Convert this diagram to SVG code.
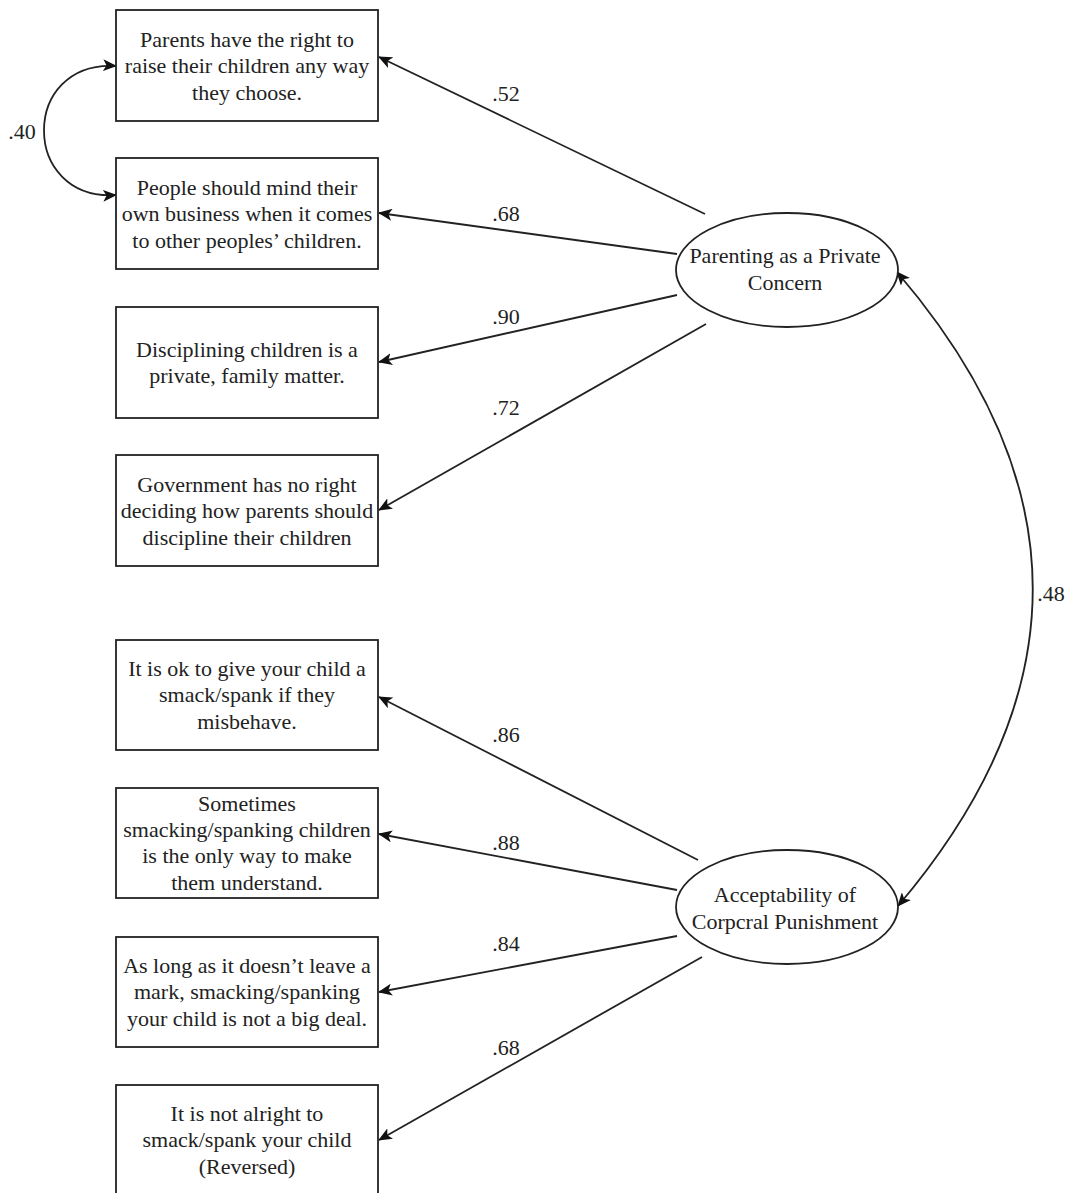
<svg xmlns="http://www.w3.org/2000/svg" width="1069" height="1193" viewBox="0 0 1069 1193">
<style>
.box{fill:#fff;stroke:#222;stroke-width:1.8}
.ell{fill:#fff;stroke:#222;stroke-width:1.8}
text{font-family:"Liberation Serif","Times New Roman",serif;font-size:22px;fill:#222;text-anchor:middle}
.c{fill:none;stroke:#222;stroke-width:1.8}
</style>
<defs>
<marker id="ah" viewBox="0 0 14 12" refX="13" refY="6" markerWidth="14" markerHeight="12" markerUnits="userSpaceOnUse" orient="auto-start-reverse">
<path d="M0,0 L14,6 L0,12 L3.5,6 Z" fill="#111"/>
</marker>
</defs>
<rect width="1069" height="1193" fill="#fff"/>
<g id="connectors">
<path class="c" d="M705,214 L379,57" marker-end="url(#ah)"/>
<path class="c" d="M677,254 L379,213" marker-end="url(#ah)"/>
<path class="c" d="M677,295 L379,362" marker-end="url(#ah)"/>
<path class="c" d="M706,324 L379,510" marker-end="url(#ah)"/>
<path class="c" d="M698,860 L379,697" marker-end="url(#ah)"/>
<path class="c" d="M677,890 L379,834" marker-end="url(#ah)"/>
<path class="c" d="M677,936 L379,992" marker-end="url(#ah)"/>
<path class="c" d="M702,957 L379,1140" marker-end="url(#ah)"/>
<path class="c" d="M116,66 C20,60 20,201 116,195" marker-start="url(#ah)" marker-end="url(#ah)"/>
<path class="c" d="M897,272 Q1168,588 898,906" marker-start="url(#ah)" marker-end="url(#ah)"/>
<text x="506" y="101">.52</text>
<text x="506" y="221">.68</text>
<text x="506" y="324">.90</text>
<text x="506" y="415">.72</text>
<text x="506" y="742">.86</text>
<text x="506" y="850">.88</text>
<text x="506" y="951">.84</text>
<text x="506" y="1055">.68</text>
<text x="22" y="139">.40</text>
<text x="1051" y="601">.48</text>
</g>
<g id="item1"><rect class="box" x="116" y="10" width="262" height="111"/>
<text x="247" y="47">Parents have the right to</text><text x="247" y="73">raise their children any way</text><text x="247" y="100">they choose.</text></g>
<g id="item2"><rect class="box" x="116" y="158" width="262" height="111"/>
<text x="247" y="195">People should mind their</text><text x="247" y="221">own business when it comes</text><text x="247" y="248">to other peoples’ children.</text></g>
<g id="item3"><rect class="box" x="116" y="307" width="262" height="111"/>
<text x="247" y="357">Disciplining children is a</text><text x="247" y="383">private, family matter.</text></g>
<g id="item4"><rect class="box" x="116" y="455" width="262" height="111"/>
<text x="247" y="492">Government has no right</text><text x="247" y="518">deciding how parents should</text><text x="247" y="545">discipline their children</text></g>
<g id="item5"><rect class="box" x="116" y="640" width="262" height="110"/>
<text x="247" y="676">It is ok to give your child a</text><text x="247" y="702">smack/spank if they</text><text x="247" y="729">misbehave.</text></g>
<g id="item6"><rect class="box" x="116" y="788" width="262" height="110"/>
<text x="247" y="811">Sometimes</text><text x="247" y="837">smacking/spanking children</text><text x="247" y="863">is the only way to make</text><text x="247" y="890">them understand.</text></g>
<g id="item7"><rect class="box" x="116" y="937" width="262" height="110"/>
<text x="247" y="973">As long as it doesn’t leave a</text><text x="247" y="999">mark, smacking/spanking</text><text x="247" y="1026">your child is not a big deal.</text></g>
<g id="item8"><rect class="box" x="116" y="1085" width="262" height="120"/>
<text x="247" y="1121">It is not alright to</text><text x="247" y="1147">smack/spank your child</text><text x="247" y="1174">(Reversed)</text></g>
<g id="factor1"><ellipse class="ell" cx="787" cy="270" rx="111" ry="57"/>
<text x="785" y="263">Parenting as a Private</text><text x="785" y="290">Concern</text></g>
<g id="factor2"><ellipse class="ell" cx="787" cy="907" rx="111" ry="57"/>
<text x="785" y="902">Acceptability of</text><text x="785" y="929">Corpcral Punishment</text></g>
</svg>
